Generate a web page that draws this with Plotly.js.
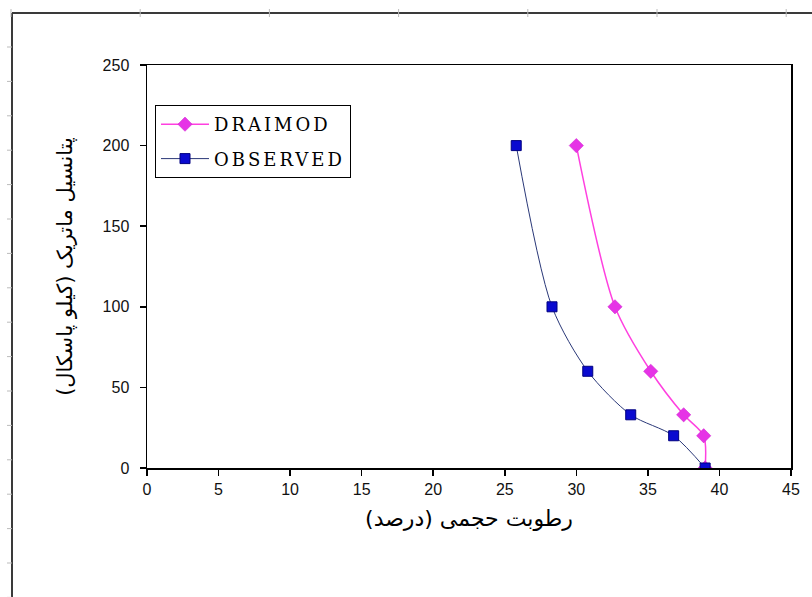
<!DOCTYPE html>
<html>
<head>
<meta charset="utf-8">
<script src="https://cdn.plot.ly/plotly-3.0.1.min.js"></script>
<style>
  html, body { margin: 0; padding: 0; background: #fff; }
  #chart { width: 812px; height: 597px; }
  .legendtext { letter-spacing: 3px; }
</style>
</head>
<body>
<div id="chart"></div>
<script>
// Matric potential (kPa)
const potential = [200, 100, 60, 33, 20, 0];
// Volumetric moisture (%) - model
const draimodMoisture = [30.0, 32.7, 35.2, 37.5, 38.9, 39.0];
// Volumetric moisture (%) - observed
const observedMoisture = [25.8, 28.3, 30.8, 33.8, 36.8, 39.0];
const seriesNames = ["DRAIMOD", "OBSERVED"];
const xTickVals = [0, 5, 10, 15, 20, 25, 30, 35, 40, 45];
const yTickVals = [0, 50, 100, 150, 200, 250];
const xTitle = "رطوبت حجمی (درصد)";
const yTitle = "پتانسیل ماتریک (کیلو پاسکال)";

const W = 812, H = 597;
const M = { l: 147, r: 21, t: 65, b: 129 };
const pw = W - M.l - M.r, ph = H - M.t - M.b;
const px = x => (x - M.l) / pw;
const py = y => (H - M.b - y) / ph;

// page frame decoration (left and top border with small ruler ticks)
const shapes = [];
const frameCol = "#3a3a3a";
shapes.push({ type: "line", xref: "paper", yref: "paper", x0: px(12), x1: px(12), y0: py(13), y1: py(597), line: { color: frameCol, width: 2 } });
shapes.push({ type: "line", xref: "paper", yref: "paper", x0: px(12), x1: px(812), y0: py(13), y1: py(13), line: { color: frameCol, width: 2 } });
for (let i = 0; i < 7; i++) {
  const xx = 11 + i * 129.2;
  shapes.push({ type: "line", xref: "paper", yref: "paper", x0: px(xx), x1: px(xx), y0: py(9), y1: py(17), line: { color: "#bbbbbb", width: 1 } });
}
for (let i = 0; i < 17; i++) {
  const yy = 47 + i * 34.4;
  shapes.push({ type: "line", xref: "paper", yref: "paper", x0: px(7), x1: px(12), y0: py(yy), y1: py(yy), line: { color: "#bbbbbb", width: 1 } });
}

const traces = [
  {
    x: draimodMoisture, y: potential, name: seriesNames[0], legendgroup: "a",
    type: "scatter", mode: "lines+markers",
    line: { color: "#ff40e0", width: 1.5, shape: "spline", smoothing: 0.8 },
    marker: { symbol: "diamond", size: 11, color: "#e633e6", line: { color: "#cc22cc", width: 0.5 } }
  },
  {
    x: observedMoisture, y: potential, name: seriesNames[1], legendgroup: "b",
    type: "scatter", mode: "lines+markers",
    line: { color: "#2a3878", width: 1, shape: "spline", smoothing: 0.8 },
    marker: { symbol: "square", size: 10, color: "#0a0ad0", line: { color: "#000080", width: 1 } }
  }
];

const axisCommon = {
  showgrid: false, zeroline: false, showline: true, mirror: true,
  linecolor: "#000", linewidth: 1.5, ticks: "outside", ticklen: 6, tickcolor: "#000", tickwidth: 1.5,
  tickfont: { family: "Liberation Sans, Arial, sans-serif", size: 16, color: "#111" }
};

const layout = {
  width: W, height: H,
  margin: M,
  paper_bgcolor: "#fff", plot_bgcolor: "#fff",
  showlegend: true,
  xaxis: Object.assign({}, axisCommon, {
    range: [0, 45], tickvals: xTickVals, ticktext: xTickVals.map(String),
    title: { text: xTitle, standoff: 14, font: { family: "DejaVu Sans, sans-serif", size: 22, color: "#000" } }
  }),
  yaxis: Object.assign({}, axisCommon, {
    range: [0, 250], tickvals: yTickVals, ticktext: yTickVals.map(String),
    ticklabelstandoff: 7,
    title: { text: yTitle, standoff: 24, font: { family: "DejaVu Sans, sans-serif", size: 21, color: "#000" } }
  }),
  legend: {
    x: px(155), y: py(105), xanchor: "left", yanchor: "top",
    bgcolor: "#fff", bordercolor: "#000", borderwidth: 1,
    font: { family: "DejaVu Serif, Liberation Serif, serif", size: 18, color: "#000" },
    itemwidth: 48,
    traceorder: "grouped", tracegroupgap: 8
  },
  shapes: shapes
};

Plotly.newPlot("chart", traces, layout, { displayModeBar: false, staticPlot: true });
</script>
</body>
</html>
